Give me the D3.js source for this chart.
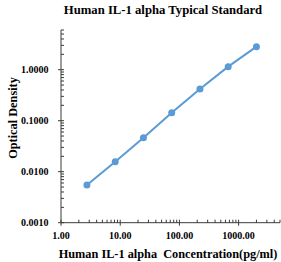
<!DOCTYPE html>
<html>
<head>
<meta charset="utf-8">
<script src="https://cdn.jsdelivr.net/npm/d3@7"></script>
<style>
    body { margin: 0; background: #fff; }
    svg text { font-family: "Liberation Serif", "Times New Roman", serif; font-weight: bold; fill: #000; }
</style>
</head>
<body>
<svg id="chart" width="281" height="262"></svg>
<script>
(function(){
'use strict';

var concentrations = [2.74, 8.23, 24.69, 74.07, 222.2, 666.7, 2000];
var opticalDensity = [0.0055, 0.0157, 0.0465, 0.1436, 0.419, 1.146, 2.825];
var yTickValues = [0.001, 0.01, 0.1, 1];
var yTickLabels = ["0.0010", "0.0100", "0.1000", "1.0000"];
var xTickValues = [1, 10, 100, 1000];
var xTickLabels = ["1.00", "10.00", "100.00", "1000.00"];

var title = "Human IL-1 alpha Typical Standard",
    xTitle = "Human IL-1 alpha\u00a0 Concentration(pg/ml)",
    yTitle = "Optical Density";

var svg = d3.select('#chart');

var x = d3.scaleLog().domain([1, 5000]).range([61, 280]),
    y = d3.scaleLog().domain([0.001, 6]).range([222.7, 30]);

var axisColor = '#3a3a3a',
    lineColor = '#5b9bd5';

// minor ticks: 2..9 within each decade, clipped to domain
function minorTicks(scale) {
    var d = scale.domain(), out = [];
    for (var p = Math.floor(Math.log10(d[0])); p <= Math.ceil(Math.log10(d[1])); p++) {
        for (var k = 2; k <= 9; k++) {
            var v = k * Math.pow(10, p);
            if (v > d[0] && v <= d[1]) out.push(v);
        }
    }
    return out;
}

var g = svg.append('g');

// y axis
g.append('line')
    .attr('x1', x(1)).attr('x2', x(1))
    .attr('y1', y.range()[0]).attr('y2', y.range()[1])
    .attr('stroke', axisColor).attr('stroke-width', 1);
g.selectAll('line.ymajor').data(yTickValues).enter().append('line')
    .attr('class', 'ymajor')
    .attr('x1', x(1) - 3).attr('x2', x(1) + 3)
    .attr('y1', function(d) { return y(d); }).attr('y2', function(d) { return y(d); })
    .attr('stroke', axisColor);
g.selectAll('line.yminor').data(minorTicks(y)).enter().append('line')
    .attr('class', 'yminor')
    .attr('x1', x(1)).attr('x2', x(1) + 3)
    .attr('y1', function(d) { return y(d); }).attr('y2', function(d) { return y(d); })
    .attr('stroke', axisColor);
g.selectAll('text.ylabel').data(yTickValues).enter().append('text')
    .attr('class', 'ylabel')
    .attr('x', 48.5)
    .attr('y', function(d) { return y(d); })
    .attr('dy', '0.35em')
    .attr('text-anchor', 'end')
    .attr('font-size', 10)
    .text(function(d, i) { return yTickLabels[i]; });

// x axis
g.append('line')
    .attr('x1', x.range()[0]).attr('x2', x.range()[1])
    .attr('y1', y(0.001)).attr('y2', y(0.001))
    .attr('stroke', axisColor).attr('stroke-width', 1);
g.selectAll('line.xmajor').data(xTickValues).enter().append('line')
    .attr('class', 'xmajor')
    .attr('x1', function(d) { return x(d); }).attr('x2', function(d) { return x(d); })
    .attr('y1', y(0.001) - 3).attr('y2', y(0.001) + 3)
    .attr('stroke', axisColor);
g.selectAll('line.xminor').data(minorTicks(x)).enter().append('line')
    .attr('class', 'xminor')
    .attr('x1', function(d) { return x(d); }).attr('x2', function(d) { return x(d); })
    .attr('y1', y(0.001) - 3).attr('y2', y(0.001))
    .attr('stroke', axisColor);
g.selectAll('text.xlabel').data(xTickValues).enter().append('text')
    .attr('class', 'xlabel')
    .attr('x', function(d) { return x(d); })
    .attr('y', 238.5)
    .attr('text-anchor', 'middle')
    .attr('font-size', 10)
    .text(function(d, i) { return xTickLabels[i]; });

// series
var pts = concentrations.map(function(c, i) { return {x: c, y: opticalDensity[i]}; });
g.append('path')
    .datum(pts)
    .attr('fill', 'none')
    .attr('stroke', lineColor)
    .attr('stroke-width', 2)
    .attr('d', d3.line().x(function(d) { return x(d.x); }).y(function(d) { return y(d.y); }));
g.selectAll('circle.pt').data(pts).enter().append('circle')
    .attr('class', 'pt')
    .attr('cx', function(d) { return x(d.x); })
    .attr('cy', function(d) { return y(d.y); })
    .attr('r', 3.5)
    .attr('fill', lineColor);

// titles
svg.append('text')
    .attr('x', 163).attr('y', 14)
    .attr('text-anchor', 'middle')
    .attr('font-size', 12.7)
    .text(title);
svg.append('text')
    .attr('x', 168).attr('y', 257.5)
    .attr('text-anchor', 'middle')
    .attr('font-size', 12.3)
    .text(xTitle);
svg.append('text')
    .attr('transform', 'translate(17,118) rotate(-90)')
    .attr('text-anchor', 'middle')
    .attr('font-size', 12.3)
    .text(yTitle);

})();
</script>
</body>
</html>
